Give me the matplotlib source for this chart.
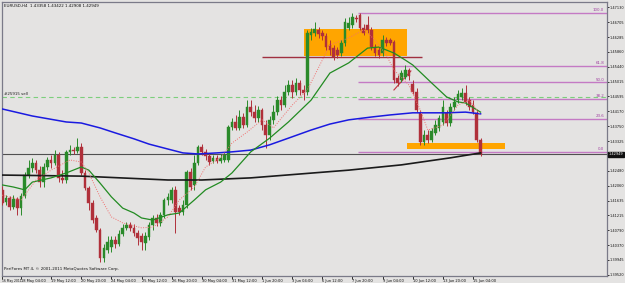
import matplotlib
matplotlib.use("Agg")
import matplotlib.pyplot as plt
from matplotlib.patches import Rectangle

# ---------------- data (EURUSD H4) ----------------
bar_idx = list(range(-5, 123))
opens = [1.4194,1.4160,1.4171,1.4145,1.4168,1.4142,1.4177,1.4236,1.4256,1.4270,1.4250,1.4216,1.4259,1.4279,1.4270,1.4293,1.4228,1.4222,1.4302,1.4307,1.4305,1.4316,1.4242,1.4199,1.4157,1.4114,1.4080,1.4000,1.4023,1.4032,1.4051,1.4040,1.4069,1.4086,1.4094,1.4086,1.4071,1.4063,1.4043,1.4060,1.4094,1.4114,1.4100,1.4123,1.4165,1.4165,1.4194,1.4142,1.4131,1.4151,1.4245,1.4208,1.4270,1.4316,1.4302,1.4290,1.4276,1.4285,1.4276,1.4279,1.4279,1.4373,1.4387,1.4370,1.4401,1.4378,1.4430,1.4415,1.4398,1.4421,1.4378,1.4350,1.4393,1.4415,1.4449,1.4435,1.4472,1.4492,1.4472,1.4498,1.4478,1.4472,1.4634,1.4640,1.4649,1.4640,1.4631,1.4606,1.4597,1.4592,1.4583,1.4612,1.4654,1.4663,1.4683,1.4691,1.4654,1.4663,1.4649,1.4600,1.4592,1.4583,1.4620,1.4620,1.4614,1.4512,1.4506,1.4515,1.4535,1.4495,1.4472,1.4413,1.4330,1.4350,1.4336,1.4356,1.4370,1.4387,1.4413,1.4384,1.4430,1.4449,1.4458,1.4469,1.4449,1.4435,1.4413,1.43358]
highs = [1.4205,1.4179,1.4177,1.4179,1.4174,1.4185,1.4245,1.4279,1.4285,1.4279,1.4262,1.4270,1.4287,1.4293,1.4307,1.4302,1.4250,1.4307,1.4322,1.4316,1.4341,1.4327,1.4250,1.4205,1.4165,1.4123,1.4086,1.4040,1.4063,1.4063,1.4063,1.4080,1.4097,1.4103,1.4103,1.4097,1.4080,1.4071,1.4074,1.4103,1.4123,1.4125,1.4131,1.4171,1.4185,1.4202,1.4205,1.4151,1.4165,1.4250,1.4256,1.4293,1.4322,1.4324,1.4310,1.4299,1.4293,1.4293,1.4296,1.4302,1.4378,1.4398,1.4407,1.4421,1.4413,1.4449,1.4449,1.4435,1.4432,1.4427,1.4393,1.4404,1.4435,1.4461,1.4461,1.4492,1.4506,1.4506,1.4512,1.4506,1.4492,1.4649,1.4654,1.4671,1.4657,1.4649,1.4640,1.4620,1.4606,1.4600,1.4620,1.4683,1.4686,1.4697,1.4691,1.4697,1.4666,1.4688,1.4657,1.4609,1.4600,1.4634,1.4629,1.4626,1.4620,1.4521,1.4535,1.4549,1.4540,1.4506,1.4484,1.4421,1.4364,1.4364,1.4370,1.4393,1.4407,1.4449,1.4421,1.4441,1.4458,1.4478,1.4484,1.4492,1.4458,1.4449,1.4421,1.43422]
lows = [1.4151,1.4151,1.4137,1.4140,1.4123,1.4123,1.4171,1.4228,1.4245,1.4242,1.4202,1.4202,1.4250,1.4256,1.4265,1.4216,1.4213,1.4213,1.4293,1.4296,1.4299,1.4236,1.4194,1.4137,1.4100,1.4074,1.3989,1.3989,1.4015,1.4017,1.4029,1.4034,1.4063,1.4080,1.4077,1.4063,1.4037,1.4023,1.4023,1.4051,1.4080,1.4091,1.4091,1.4114,1.4151,1.4157,1.4071,1.4123,1.4123,1.4142,1.4194,1.4194,1.4265,1.4293,1.4279,1.4265,1.4270,1.4270,1.4270,1.4273,1.4273,1.4364,1.4364,1.4364,1.4370,1.4373,1.4404,1.4387,1.4387,1.4364,1.4313,1.4336,1.4381,1.4407,1.4421,1.4430,1.4464,1.4455,1.4464,1.4464,1.4449,1.4464,1.4620,1.4631,1.4626,1.4620,1.4592,1.4577,1.4563,1.4569,1.4575,1.4603,1.4649,1.4654,1.4671,1.4649,1.4634,1.4640,1.4592,1.4575,1.4569,1.4575,1.4603,1.4606,1.4498,1.4489,1.4501,1.4509,1.4506,1.4467,1.4415,1.4322,1.4322,1.4327,1.4330,1.4350,1.4361,1.4378,1.4376,1.4376,1.4421,1.4441,1.4449,1.4435,1.4421,1.4410,1.4330,1.42908]
closes = [1.4157,1.4171,1.4145,1.4168,1.4142,1.4177,1.4236,1.4256,1.4270,1.4250,1.4216,1.4259,1.4279,1.4270,1.4293,1.4228,1.4222,1.4302,1.4307,1.4305,1.4316,1.4242,1.4199,1.4157,1.4108,1.4080,1.4000,1.4029,1.4046,1.4051,1.4040,1.4069,1.4086,1.4094,1.4086,1.4071,1.4057,1.4046,1.4063,1.4094,1.4114,1.4100,1.4123,1.4165,1.4174,1.4194,1.4131,1.4131,1.4151,1.4245,1.4202,1.4270,1.4316,1.4302,1.4290,1.4273,1.4285,1.4276,1.4285,1.4293,1.4373,1.4387,1.4370,1.4401,1.4378,1.4430,1.4415,1.4398,1.4421,1.4378,1.4350,1.4393,1.4415,1.4449,1.4435,1.4472,1.4492,1.4472,1.4498,1.4478,1.4469,1.4640,1.4643,1.4651,1.4637,1.4631,1.4600,1.4592,1.4572,1.4577,1.4612,1.4671,1.4668,1.4686,1.4680,1.4654,1.4640,1.4649,1.4600,1.4583,1.4577,1.4620,1.4612,1.4612,1.4506,1.4498,1.4526,1.4535,1.4518,1.4472,1.4421,1.4330,1.4350,1.4336,1.4361,1.4378,1.4398,1.4430,1.4384,1.4430,1.4444,1.4467,1.4469,1.4444,1.4430,1.4415,1.4336,1.42949]

# moving averages (read at selected bars)
ma_blue_x = [-5, 3, 12, 16, 21, 25, 30, 34, 39, 43, 47, 52, 56, 61, 66, 71, 77, 82, 87, 93, 98, 104, 113, 118, 122]
ma_blue_y = [1.4424,1.4404,1.4387,1.4384,1.4370,1.4356,1.4339,1.4324,1.4310,1.4299,1.4296,1.4299,1.4302,1.4307,1.4322,1.4341,1.4364,1.4381,1.4393,1.4401,1.4407,1.4413,1.4413,1.4415,1.4410]
ma_black_x = [-5, 16, 39, 48, 61, 74, 87, 101, 114, 122]
ma_black_y = [1.4236,1.4233,1.4222,1.4222,1.4228,1.4239,1.4250,1.4265,1.4285,1.4299]
ma_green_x = [-5,-2,1,3,8,12,16,18,21,24,27,30,32,35,39,42,46,49,53,56,61,66,71,77,82,87,92,95,99,102,104,109,113,116,118,122]
ma_green_y = [1.4208,1.4202,1.4194,1.4216,1.4228,1.4242,1.4259,1.4250,1.4213,1.4174,1.4142,1.4128,1.4114,1.4108,1.4123,1.4128,1.4165,1.4194,1.4216,1.4242,1.4302,1.4341,1.4387,1.4449,1.4526,1.4555,1.4597,1.4600,1.4583,1.4563,1.4549,1.4498,1.4458,1.4444,1.4441,1.4415]
ma_red_x = [-5, 0, 4, 8, 13, 16, 18, 21, 24, 27, 32, 35, 39, 42, 46, 49, 53, 56, 60, 64, 67, 72, 76, 82, 87, 91, 94, 97, 99, 103, 106, 108, 112, 116, 119, 122]
ma_red_y = [1.4179,1.4165,1.4222,1.4250,1.4279,1.4273,1.4242,1.4174,1.4117,1.4100,1.4086,1.4088,1.4117,1.4165,1.4202,1.4259,1.4285,1.4327,1.4358,1.4393,1.4370,1.4435,1.4478,1.4606,1.4626,1.4649,1.4620,1.4577,1.4535,1.4492,1.4421,1.4364,1.4378,1.4435,1.4449,1.4407]

fib_levels = [0.0, 23.6, 38.2, 50.0, 61.8, 100.0]
fib_low = 1.4302
fib_high = 1.4697
order_price = 1.4457
resist_price = 1.4572
last_price = 1.42949

ytick_vals = [1.47130,1.46705,1.46285,1.45860,1.45440,1.45015,1.44595,1.44170,1.43750,1.43325,1.42480,1.42060,1.41635,1.41215,1.40790,1.40370,1.39945,1.39520]
xtick_idx = [-5.0, 0, 8, 16, 24, 32, 40, 48, 56, 64, 72, 80, 88, 96, 104, 112, 120]
xtick_lab = ["16 May 2011","18 May 04:00","19 May 12:00","20 May 20:00","24 May 04:00","25 May 12:00","26 May 20:00","30 May 04:00","31 May 12:00","1 Jun 20:00","3 Jun 04:00","6 Jun 12:00","7 Jun 20:00","9 Jun 04:00","10 Jun 12:00","13 Jun 20:00","15 Jun 04:00"]

# ---------------- drawing ----------------
W, H = 625, 283
bg = "#e4e3e2"
fig = plt.figure(figsize=(W/100, H/100), dpi=100)
fig.patch.set_facecolor(bg)
ax = fig.add_axes([2/W, 7/H, 605/W, 274/H])
ax.set_facecolor(bg)
ax.set_xlim(-5.04, 155.56)
ax.set_ylim(1.39490, 1.47281)

FS = 2.9
FSX = 2.6
FSY = 2.55
up_c = "#2a8a2a"
dn_c = "#b0303a"

# background objects
ax.add_patch(Rectangle((75.1, 1.4575), 102.5-75.1, 1.4651-1.4575, color="#ffa500", zorder=1, lw=0))
ax.add_patch(Rectangle((102.5, 1.4310), 128.5-102.5, 1.4327-1.4310, color="#ffa500", zorder=1, lw=0))

# order line
ax.axhline(order_price, color="#7ccf7c", lw=0.8, ls=(0, (4, 3)), zorder=2)
ax.text(-4.6, order_price + 0.0005, "#25915 sell", fontsize=FS, color="#202020", va="bottom", ha="left")

# price line
ax.axhline(last_price, color="#505050", lw=0.8, zorder=2)

# fib lines
for lv in fib_levels:
    p = fib_low + (fib_high - fib_low) * lv / 100.0
    ax.hlines(p, 89.5, 155.56, color="#c47ac4", lw=1.0, zorder=2)
    ax.text(154.8, p + 0.0002, "%.1f" % lv, fontsize=FS, color="#a040a0", ha="right", va="bottom")

# resistance line
ax.hlines(resist_price, 64.0, 106.5, color="#a03040", lw=1.0, zorder=3)
# small drawn line
ax.plot([99, 103.5], [1.4478, 1.4532], color="#c03040", lw=0.8, zorder=3)

# candles
for i, o, h, l, c in zip(bar_idx, opens, highs, lows, closes):
    col = up_c if c >= o else dn_c
    ax.vlines(i, l, h, color=col, lw=0.7, zorder=4)
    lo, hi = min(o, c), max(o, c)
    if hi - lo < 0.00008:
        ax.hlines(c, i - 0.35, i + 0.35, color=col, lw=0.8, zorder=5)
    else:
        ax.add_patch(Rectangle((i - 0.36, lo), 0.72, hi - lo, facecolor=col, edgecolor=col, lw=0.3, zorder=5))

# moving averages
ax.plot(ma_black_x, ma_black_y, color="#1a1a1a", lw=1.2, zorder=6)
ax.plot(ma_blue_x, ma_blue_y, color="#1a1ae0", lw=1.1, zorder=6)
ax.plot(ma_green_x, ma_green_y, color="#228b22", lw=0.9, zorder=6)
ax.plot(ma_red_x, ma_red_y, color="#f07070", lw=0.7, ls=(0, (1, 1.5)), zorder=6)

# texts
ax.text(-4.6, 1.47281 - 0.0006, "EURUSD,H4  1.43358 1.43422 1.42908 1.42949", fontsize=FS, color="#101010", va="top", ha="left")
ax.text(-4.6, 1.39490 + 0.0015, "PeriFores MT 4, \u00a9 2001-2011 MetaQuotes Software Corp.", fontsize=FS, color="#101010", va="bottom", ha="left")

# axes styling
for s in ax.spines.values():
    s.set_color("#7a7a88")
    s.set_linewidth(0.9)
ax.yaxis.tick_right()
ax.set_yticks(ytick_vals)
ax.set_yticklabels(["%.5f" % v for v in ytick_vals])
ax.tick_params(axis="y", labelsize=FSY, length=1.5, width=0.6, pad=0.6, colors="#101010")
ax.set_xticks(xtick_idx)
ax.set_xticklabels(xtick_lab, ha="left")
ax.tick_params(axis="x", labelsize=FSX, length=2, width=0.6, pad=0.5, colors="#101010")
first = ax.get_xticklabels()[0]
first.set_fontsize(2.2)

# current price tag
ax.annotate("1.42949", xy=(1.0, last_price), xycoords=("axes fraction", "data"), xytext=(1.0, 0), textcoords="offset points",
            fontsize=FSY, color="white", va="center", ha="left",
            bbox=dict(boxstyle="square,pad=0.2", fc="#101010", ec="#101010"), annotation_clip=False)

fig.savefig("out.png", dpi=100, facecolor=bg)
